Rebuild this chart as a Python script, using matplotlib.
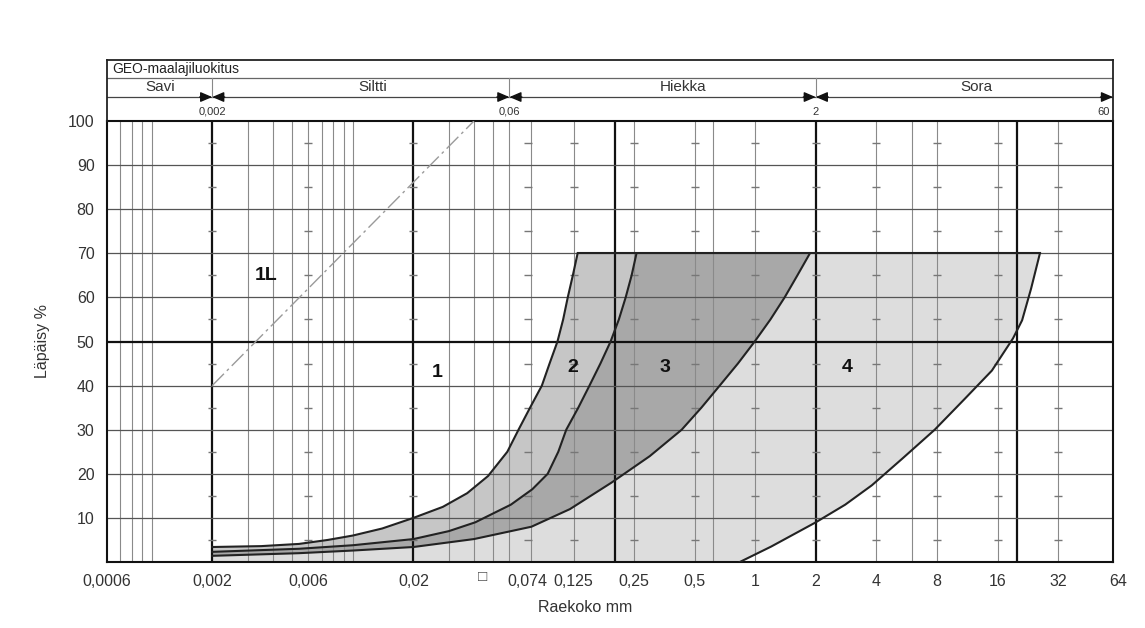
import matplotlib.pyplot as plt

plt.rcParams['font.family'] = ['Liberation Sans', 'DejaVu Sans']

# axis values
pct_ticks = [10, 20, 30, 40, 50, 60, 70, 80, 90, 100]
size_ticks = [0.0006, 0.002, 0.006, 0.02, 0.074, 0.125, 0.25, 0.5, 1, 2, 4, 8, 16, 32, 64]
size_labels = ['0,0006', '0,002', '0,006', '0,02', '0,074', '0,125', '0,25', '0,5',
               '1', '2', '4', '8', '16', '32', '64']
grid_major = [0.002, 0.02, 0.2, 2, 20]
grid_minor = [0.0007, 0.0008, 0.0009, 0.001, 0.003, 0.004, 0.005, 0.006, 0.007, 0.008,
              0.009, 0.01, 0.03, 0.04, 0.05, 0.06, 0.077, 0.125, 0.25, 0.5, 0.62, 1,
              4, 6, 8, 16, 32]

# GEO classification header
classes = ['Savi', 'Siltti', 'Hiekka', 'Sora']
class_pos = [0.0011, 0.0125, 0.44, 12.5]
class_bounds = [0.002, 0.06, 2, 60]
bound_labels = ['0,002', '0,06', '2', '60']

# boundary curves (grain size mm, passing %)
a_size = [0.002, 0.0035, 0.0054, 0.0075, 0.01, 0.014, 0.02, 0.028, 0.037, 0.047,
          0.0586, 0.0666, 0.076, 0.087, 0.095, 0.104, 0.111, 0.117, 0.124, 0.131]
a_pct = [3.4, 3.6, 4.1, 5.0, 6.0, 7.6, 10.0, 12.5, 15.6, 19.5,
         25.0, 30.0, 35.0, 40.0, 45.0, 50.0, 55.0, 60.0, 65.0, 70.0]
b_size = [0.002, 0.0054, 0.01, 0.02, 0.03, 0.0406, 0.061, 0.078, 0.093, 0.105,
          0.115, 0.132, 0.150, 0.170, 0.191, 0.210, 0.227, 0.243, 0.257]
b_pct = [2.3, 3.0, 3.8, 5.2, 7.0, 9.0, 13.0, 16.5, 20.0, 25.0,
         30.0, 35.0, 40.0, 45.0, 50.0, 55.0, 60.0, 65.0, 70.0]
c_size = [0.002, 0.0054, 0.01, 0.02, 0.04, 0.0772, 0.12, 0.193, 0.299, 0.431,
          0.54, 0.666, 0.82, 0.994, 1.19, 1.40, 1.62, 1.87]
c_pct = [1.4, 2.0, 2.6, 3.4, 5.2, 8.0, 12.0, 18.0, 24.0, 30.0,
         35.0, 40.0, 45.0, 50.0, 55.0, 60.0, 65.0, 70.0]
d_size = [0.838, 1.2, 2.0, 2.8, 3.8, 5.4, 7.8, 11.0, 15.0, 19.1, 21.2, 23.5, 26.0]
d_pct = [0.0, 3.5, 9.0, 13.0, 17.4, 23.5, 30.0, 37.0, 43.4, 50.7, 54.8, 62.0, 70.0]

# 1L line
l1_size = [0.002, 0.04]
l1_pct = [40, 100]

zone_names = ['1L', '1', '2', '3', '4']
zone_size = [0.0037, 0.0263, 0.124, 0.354, 2.88]
zone_pct = [65, 43, 44, 44, 44]

fig = plt.figure(figsize=(11.45, 6.28), dpi=100)
W, H = 1145, 628
ax = fig.add_axes([107 / W, 1 - 562 / H, 1006 / W, 441 / H])
ax.set_xscale('log')
ax.set_xlim(0.0006, 60)
ax.set_ylim(0, 100)

# shaded zones
ax.fill(a_size + b_size[::-1], a_pct + b_pct[::-1], color='#c6c6c6', lw=0, zorder=1)
ax.fill(b_size + c_size[::-1], b_pct + c_pct[::-1], color='#a8a8a8', lw=0, zorder=1)
ax.fill(c_size + d_size[::-1] + [c_size[0]], c_pct + d_pct[::-1] + [0],
        color='#dddddd', lw=0, zorder=1)

# grid
for v in grid_minor:
    ax.axvline(v, color='#8a8a8a', lw=0.8, zorder=2)
for v in grid_major:
    ax.axvline(v, color='#111111', lw=1.6, zorder=2)
for p in pct_ticks[:-1]:
    if p == 50:
        ax.axhline(p, color='#111111', lw=1.6, zorder=2)
    else:
        ax.axhline(p, color='#555555', lw=0.9, zorder=2)
dash_pct = [p - 5 for p in pct_ticks]
for v in size_ticks[1:-1]:
    ax.plot([v] * len(dash_pct), dash_pct, ls='none', marker='_', ms=6,
            color='#777777', zorder=2)

# curves
for xs, ys in [(a_size, a_pct), (b_size, b_pct), (c_size, c_pct), (d_size, d_pct)]:
    ax.plot(xs, ys, color='#222222', lw=1.5, zorder=3)
ax.plot([a_size[-1], d_size[-1]], [70, 70], color='#222222', lw=1.5, zorder=3)
ax.plot(l1_size, l1_pct, color='#9a9a9a', lw=1.0, ls=(0, (12, 3, 2, 3)), zorder=3)

for name, x, y in zip(zone_names, zone_size, zone_pct):
    ax.text(x, y, name, fontsize=14, fontweight='bold', ha='center', va='center',
            color='#111111', zorder=4)

# axes look
for s in ax.spines.values():
    s.set_linewidth(1.5)
    s.set_color('#111111')
ax.set_yticks(pct_ticks)
ax.set_yticklabels([str(p) for p in pct_ticks], fontsize=11.5, color='#333333')
ax.tick_params(axis='y', length=0, pad=9)
ax.set_xticks([])
ax.xaxis.set_minor_locator(plt.NullLocator())
for v, lab in zip(size_ticks, size_labels):
    ax.text(v, -0.045, lab, transform=ax.get_xaxis_transform(), ha='center',
            va='center', fontsize=11.5, color='#333333')
ax.text(0.044, -0.035, '\u25a1', transform=ax.get_xaxis_transform(), ha='center',
        va='center', fontsize=11, color='#444444')
ax.set_ylabel('Läpäisy %', fontsize=11.5, color='#333333')
ax.yaxis.set_label_coords(-0.057, 0.5)
ax.set_xlabel('Raekoko mm', fontsize=11.5, color='#333333')
ax.xaxis.set_label_coords(0.475, -0.086)

# header
hx = fig.add_axes([107 / W, 1 - 121 / H, 1006 / W, 61 / H])
hx.set_xscale('log')
hx.set_xlim(0.0006, 60)
hx.set_ylim(0, 1)
hx.set_xticks([])
hx.set_yticks([])
hx.xaxis.set_minor_locator(plt.NullLocator())
hx.patch.set_alpha(0)
for s in hx.spines.values():
    s.set_linewidth(1.3)
    s.set_color('#222222')
hx.spines['bottom'].set_visible(False)
hx.axhline(0.705, color='#666666', lw=0.9)
hx.axhline(0.393, color='#444444', lw=0.9)
hx.text(0.005, 0.86, 'GEO-maalajiluokitus', transform=hx.transAxes, fontsize=10,
        va='center', ha='left', color='#222222')
for name, x in zip(classes, class_pos):
    hx.text(x, 0.56, name, ha='center', va='center', fontsize=11, color='#333333')
for b in class_bounds[:-1]:
    hx.plot([b, b], [0.393, 0.705], color='#888888', lw=0.8)
arrow_style = dict(arrowstyle='-|>,head_length=0.7,head_width=0.3', color='#111111',
                   lw=1.0, shrinkA=0, shrinkB=0)
for b in class_bounds:
    hx.annotate('', xy=(b, 0.393), xytext=(-9, 0), textcoords='offset points',
                arrowprops=arrow_style)
for b in class_bounds[:-1]:
    hx.annotate('', xy=(b, 0.393), xytext=(9, 0), textcoords='offset points',
                arrowprops=arrow_style)
for b, lab in zip(class_bounds, bound_labels):
    if b == class_bounds[-1]:
        hx.annotate(lab, xy=(b, 0.15), xytext=(-2, 0), textcoords='offset points',
                    ha='right', va='center', fontsize=8, color='#333333')
    else:
        hx.text(b, 0.15, lab, ha='center', va='center', fontsize=8, color='#333333')

fig.savefig('out.png', dpi=100)
